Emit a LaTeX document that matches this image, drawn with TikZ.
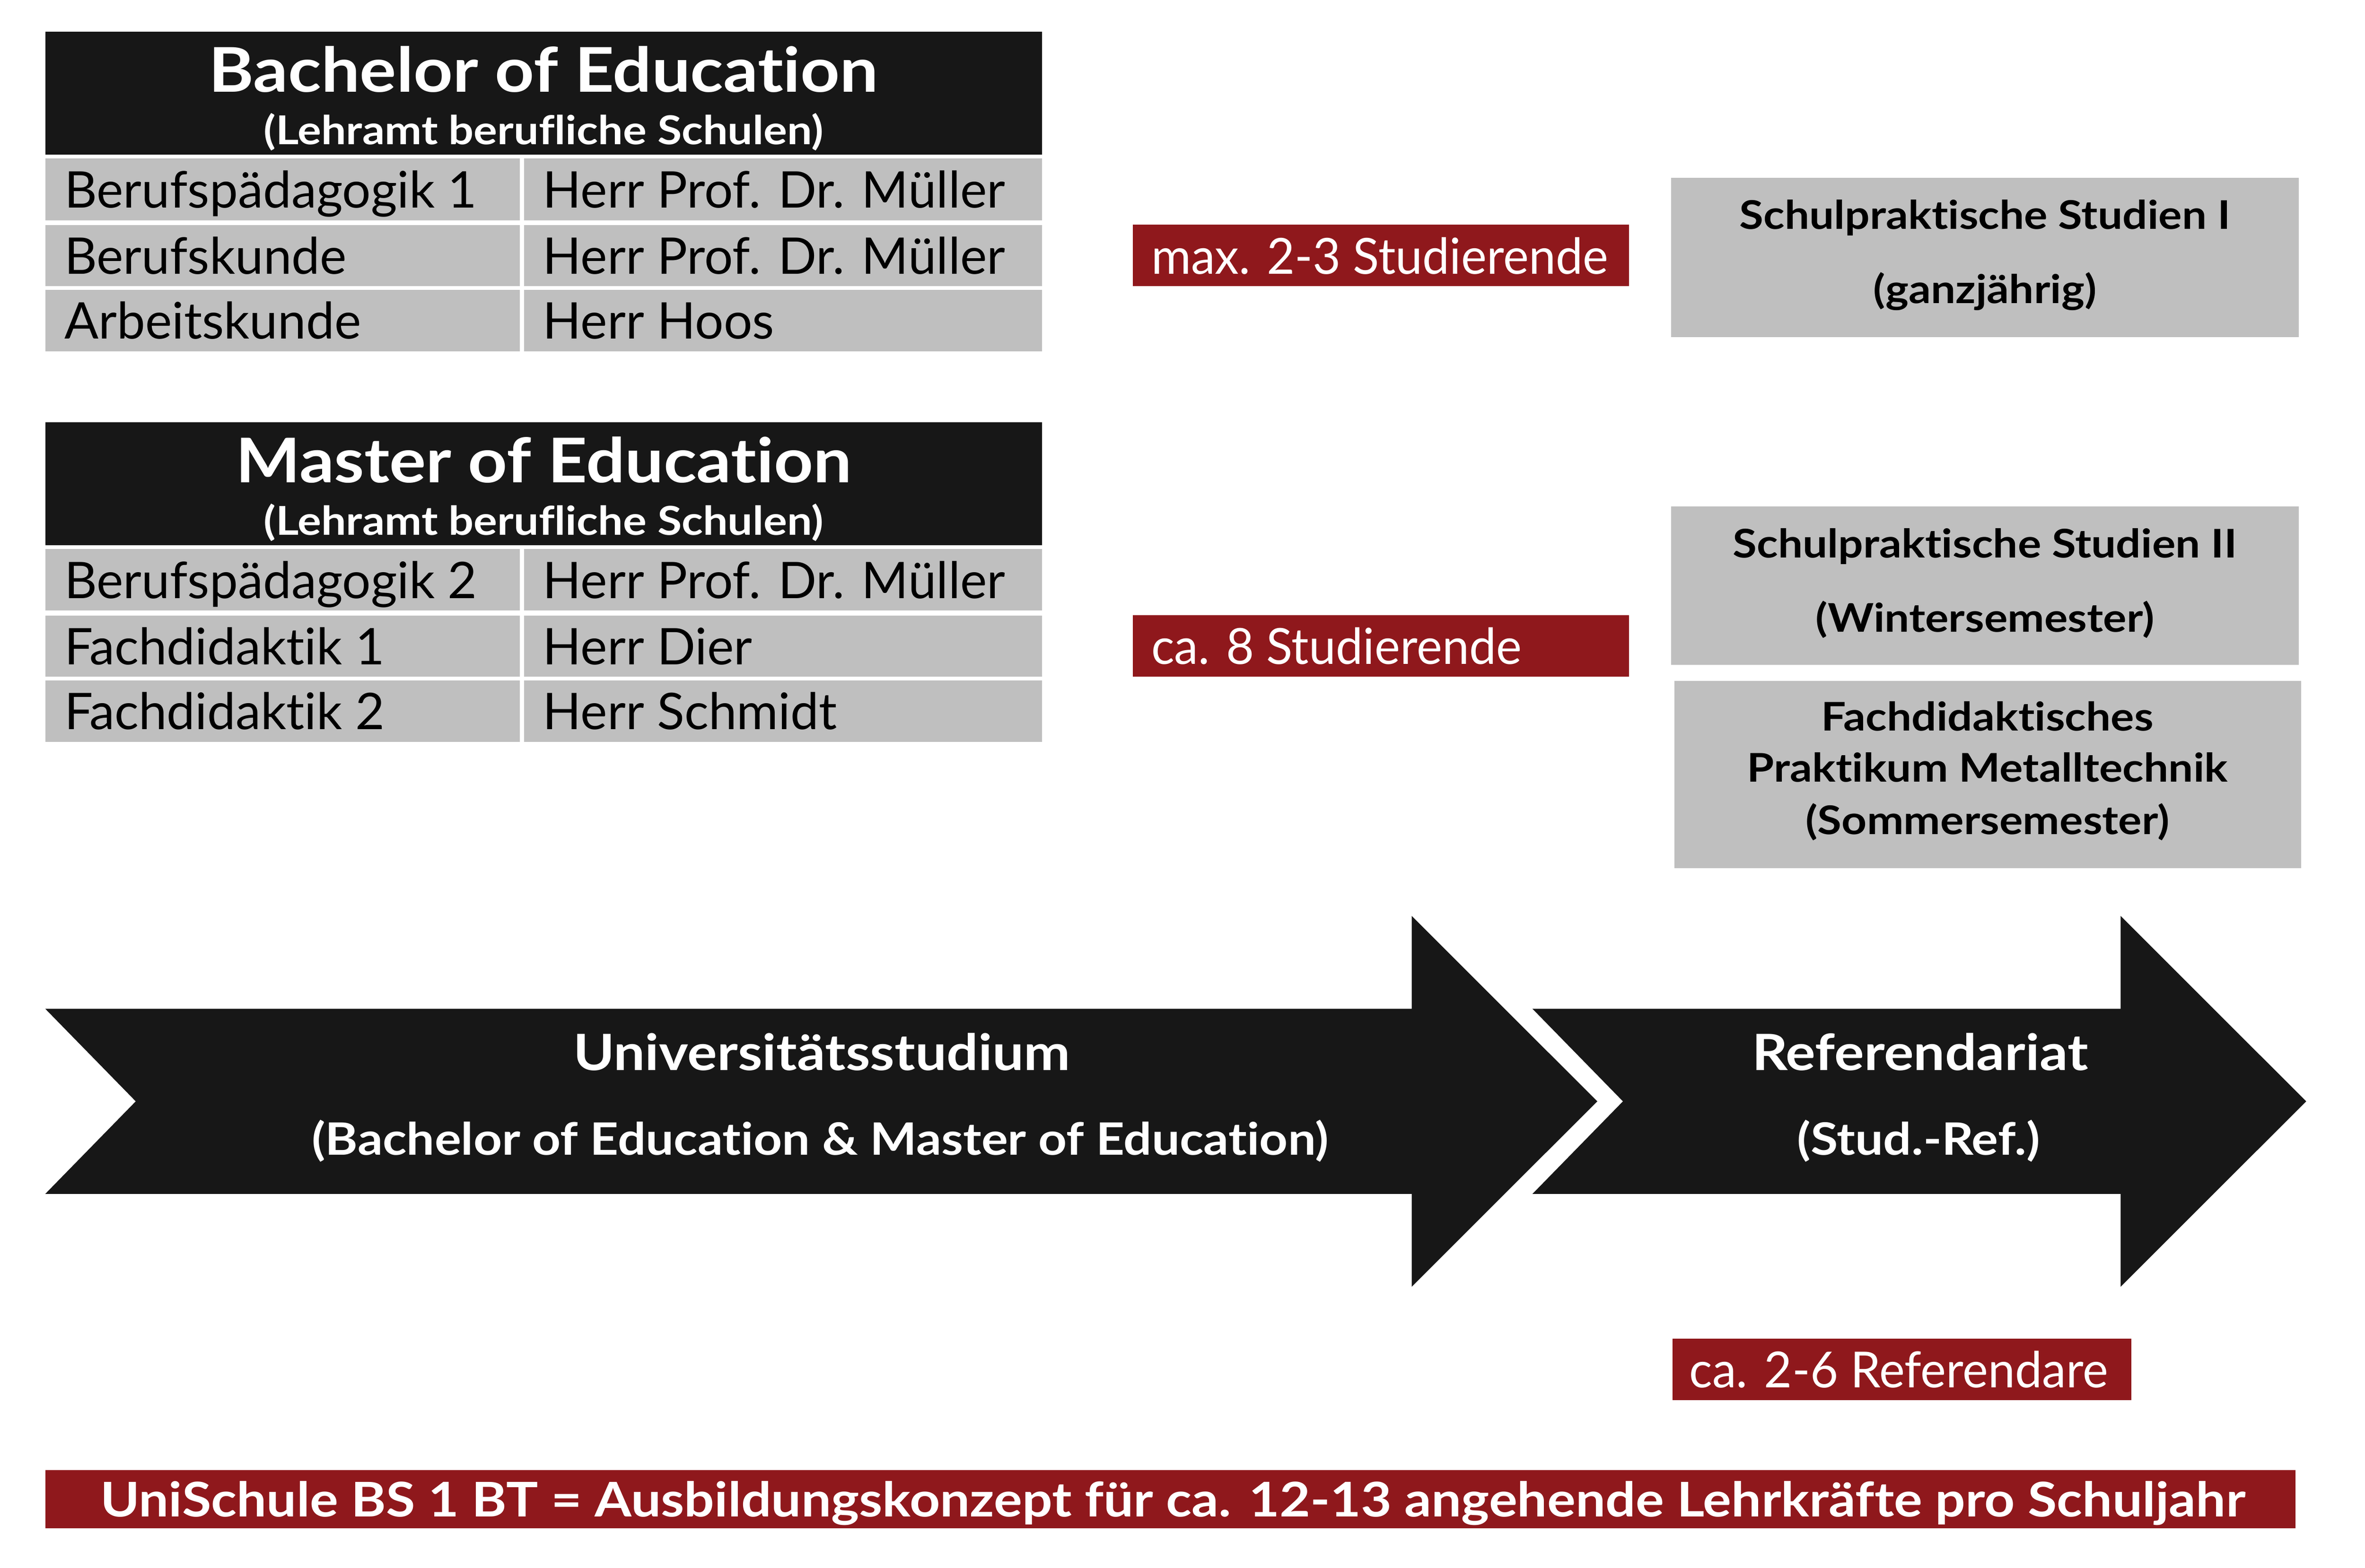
\documentclass[tikz,border=0pt]{standalone}
\usepackage{fontspec}
\setmainfont{Lato}[Ligatures=NoCommon]
\newfontfamily\wideface{Lato}[Ligatures=NoCommon,FakeStretch=1.11]
\newfontfamily\narrowface{Lato}[Ligatures=NoCommon,FakeStretch=0.97]
\definecolor{hdrblack}{RGB}{23,23,23}
\definecolor{cellgrey}{RGB}{191,191,191}
\definecolor{uniRed}{RGB}{143,24,28}
\newcommand{\fsz}[1]{\fontsize{#1}{#1}\selectfont}
\begin{document}
\begin{tikzpicture}[x=1pt,y=-1pt,
  box/.style={inner sep=0pt, outer sep=0pt, anchor=north west},
  hdr/.style={box, fill=hdrblack},
  cell/.style={box, fill=cellgrey},
  redbox/.style={box, fill=uniRed},
  txt/.style={inner sep=0pt, outer sep=0pt},
  celltxt/.style={txt, anchor=base west, font=\fsz{33.5}},
  titletxt/.style={txt, anchor=base, text=white, font=\wideface\bfseries\fsz{40.9}},
  subtxt/.style={txt, anchor=base, text=white, font=\wideface\bfseries\fsz{26.4}},
  redtxt/.style={txt, anchor=base west, text=white, font=\narrowface\fsz{33}},
  greytxt/.style={txt, anchor=base, font=\wideface\bfseries\fsz{26.2}},
  arrtxt/.style={txt, anchor=base, text=white, font=\wideface\bfseries\fsz{33.2}},
  arrsub/.style={txt, anchor=base, text=white, font=\wideface\bfseries\fsz{29.6}},
  bartxt/.style={txt, anchor=base, text=white, font=\wideface\bfseries\fsz{31.7}}
]
\useasboundingbox[fill=white] (0,0) rectangle (1568,1039.6);

% ---------- Bachelor table ----------
\node[hdr, minimum width=660.7pt, minimum height=81.6pt] (bh) at (30,20.9) {};
\node[titletxt] (bht) at (360.4,60.9) {Bachelor of Education};
\node[subtxt] (bhs) at (360.4,95.9) {(Lehramt berufliche Schulen)};
\foreach \i/\y/\h/\a/\b in {1/105.2/40.8/Berufspädagogik 1/Herr Prof. Dr. Müller,
                            2/149.2/40.5/Berufskunde/Herr Prof. Dr. Müller,
                            3/192.3/40.7/Arbeitskunde/Herr Hoos}{
  \node[cell, minimum width=314.7pt, minimum height=\h pt] (bl\i) at (30,\y) {};
  \node[cell, minimum width=343.3pt, minimum height=\h pt] (br\i) at (347.4,\y) {};
  \node[celltxt] (blt\i) at (42.7,\y+32.5) {\a};
  \node[celltxt] (brt\i) at (360,\y+32.5) {\b};
}

% ---------- Master table ----------
\node[hdr, minimum width=660.7pt, minimum height=81.6pt] (mh) at (30,279.9) {};
\node[titletxt] (mht) at (360.4,319.9) {Master of Education};
\node[subtxt] (mhs) at (360.4,354.9) {(Lehramt berufliche Schulen)};
\foreach \i/\y/\h/\a/\b in {1/364.2/40.8/Berufspädagogik 2/Herr Prof. Dr. Müller,
                            2/408.2/40.5/Fachdidaktik 1/Herr Dier,
                            3/451.3/40.7/Fachdidaktik 2/Herr Schmidt}{
  \node[cell, minimum width=314.7pt, minimum height=\h pt] (ml\i) at (30,\y) {};
  \node[cell, minimum width=343.3pt, minimum height=\h pt] (mr\i) at (347.4,\y) {};
  \node[celltxt] (mlt\i) at (42.7,\y+32.5) {\a};
  \node[celltxt] (mrt\i) at (360,\y+32.5) {\b};
}

% ---------- red labels ----------
\node[redbox, minimum width=329pt, minimum height=40.8pt] (r1) at (751,149) {};
\node[redtxt] (r1t) at (763.3,181.7) {max. 2-3 Studierende};
\node[redbox, minimum width=329pt, minimum height=40.8pt] (r2) at (751,408) {};
\node[redtxt] (r2t) at (763.3,440.5) {ca. 8 Studierende};
\node[redbox, minimum width=304pt, minimum height=40.7pt] (r3) at (1109,887.9) {};
\node[redtxt] (r3t) at (1120,920.3) {ca. 2-6 Referendare};

% ---------- grey practice boxes ----------
\node[cell, minimum width=416pt, minimum height=105.5pt] (g1) at (1108,118) {};
\node[greytxt] (g1a) at (1316,151.8) {Schulpraktische Studien I};
\node[greytxt] (g1b) at (1316,201.2) {(ganzjährig)};
\node[cell, minimum width=416pt, minimum height=105pt] (g2) at (1108,336) {};
\node[greytxt] (g2a) at (1316,369.8) {Schulpraktische Studien II};
\node[greytxt] (g2b) at (1316,419.2) {(Wintersemester)};
\node[cell, minimum width=415.5pt, minimum height=124.3pt] (g3) at (1110,451.6) {};
\node[greytxt] (g3a) at (1317.7,484.6) {Fachdidaktisches};
\node[greytxt] (g3b) at (1317.7,518.6) {Praktikum Metalltechnik};
\node[greytxt] (g3c) at (1317.7,553.4) {(Sommersemester)};

% ---------- arrows ----------
\fill[hdrblack] (30,669) -- (936,669) -- (936,607.5) -- (1059,730.4) -- (936,853.3)
  -- (936,791.8) -- (30,791.8) -- (90,730.4) -- cycle;
\fill[hdrblack] (1016,669) -- (1406,669) -- (1406,607.5) -- (1529,730.4) -- (1406,853.3)
  -- (1406,791.8) -- (1016,791.8) -- (1076,730.4) -- cycle;
\node[arrtxt] (a1a) at (544.8,709.7) {Universitätsstudium};
\node[arrsub] (a1b) at (543.7,765.9) {(Bachelor of Education \& Master of Education)};
\node[arrtxt] (a2a) at (1273,709.7) {Referendariat};
\node[arrsub] (a2b) at (1272,765.9) {(Stud.-Ref.)};

% ---------- bottom bar ----------
\node[redbox, minimum width=1492pt, minimum height=38.4pt] (bar) at (30,975) {};
\node[bartxt] (bart) at (777.5,1005.8) {UniSchule BS 1 BT = Ausbildungskonzept für ca. 12-13 angehende Lehrkräfte pro Schuljahr};
\end{tikzpicture}
\end{document}
